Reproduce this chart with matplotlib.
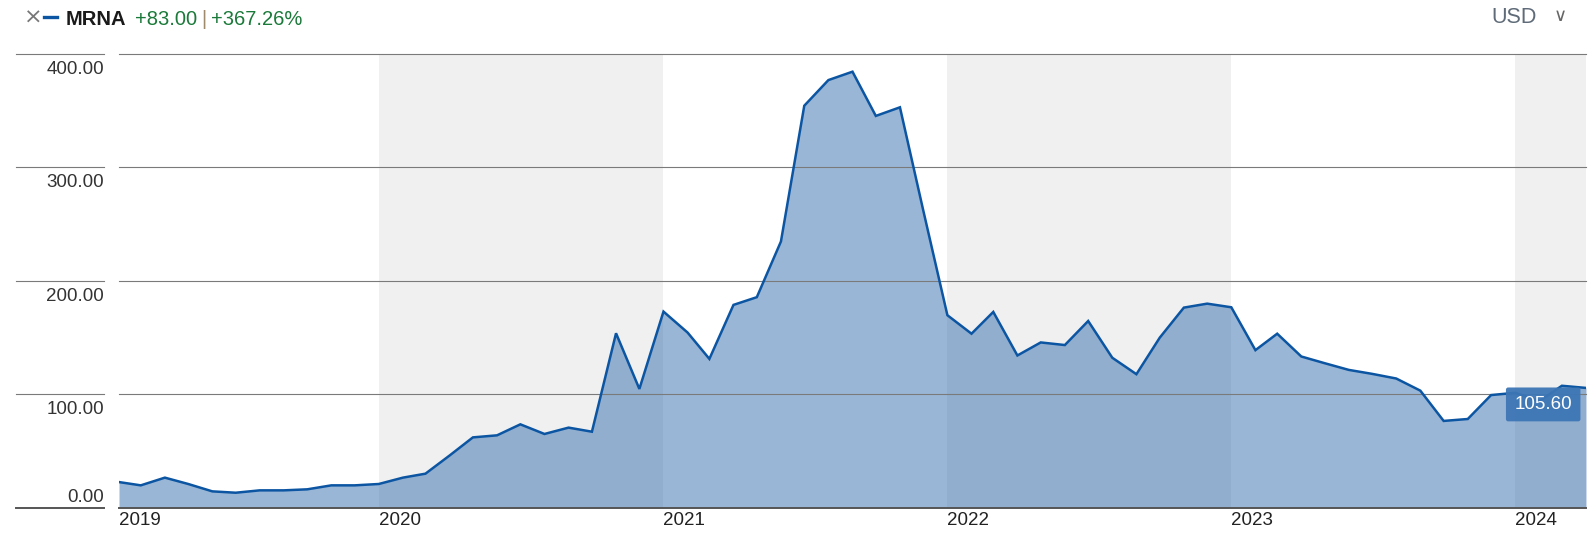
import pandas as pd
import matplotlib
matplotlib.use("Agg")
import matplotlib.pyplot as plt
from matplotlib.lines import Line2D

# monthly closes, MRNA
dates = pd.date_range("2019-02-01", periods=63, freq="MS")
prices = [22.6, 19.7, 26.5, 20.9, 14.4, 13.2, 15.3, 15.3, 16.2, 19.7,
          19.7, 20.9, 26.5, 30.0, 46.0, 62.0, 63.8, 73.5, 65.0, 70.6,
          67.0, 153.8, 104.7, 172.9, 154.4, 131.2, 178.8, 185.6, 234.7, 354.4,
          377.0, 384.4, 345.4, 353.0, 262.0, 169.7, 153.4, 172.6, 134.2, 145.7,
          143.4, 164.6, 132.2, 117.7, 149.9, 176.4, 179.9, 176.7, 138.9, 153.4,
          133.3, 127.4, 121.5, 118.0, 113.9, 103.2, 76.5, 78.2, 99.3, 101.3,
          94.0, 107.5, 105.6]
ticker = "MRNA"
change_abs = "+83.00"
change_pct = "+367.26%"
currency = "USD"
yticks = [0, 100, 200, 300, 400]
years = [2019, 2020, 2021, 2022, 2023, 2024]
shaded_years = [2020, 2022, 2024]

plt.rcParams["font.family"] = ["Liberation Sans", "DejaVu Sans"]

LINE = "#0b55a2"
FILL = "#1f5fa8"
GREEN = "#1b7a3a"
W, H = 1596, 537

fig = plt.figure(figsize=(W / 100, H / 100), dpi=100)
ax = fig.add_axes([119 / W, 1 - 507.7 / H, (1586 - 119) / W, (507.7 - 54) / H])

start, end = dates[0], dates[-1]
ax.set_xlim(start, end)
ax.set_ylim(0, 400)

# alternating year bands
for yr in shaded_years:
    a = max(pd.Timestamp(f"{yr}-01-01"), start)
    b = min(pd.Timestamp(f"{yr + 1}-01-01"), end)
    ax.axvspan(a, b, color="#f0f0f0", lw=0, zorder=0)

ax.fill_between(dates, prices, 0, color=FILL, alpha=0.45, lw=0, zorder=2)
ax.plot(dates, prices, color=LINE, lw=1.8, zorder=4, solid_joinstyle="miter")

# grid lines, also running into the label area on the left
tr = ax.get_yaxis_transform()
for v in yticks:
    lw, col = (1.4, "#555555") if v == 0 else (0.8, "#7a7a7a")
    ax.plot([0, 1], [v, v], transform=tr, color=col, lw=lw, zorder=3, clip_on=False)
    ax.plot([-0.0702, -0.0102], [v, v], transform=tr, color=col, lw=lw, clip_on=False)
    if v == 0:
        ax.text(-0.0102, v + 1.5, "0.00", transform=tr, ha="right", va="bottom",
                fontsize=13.5, color="#333333")
    else:
        ax.text(-0.0102, v - 6, f"{v:.2f}", transform=tr, ha="right", va="top",
                fontsize=13.5, color="#333333")

for s in ax.spines.values():
    s.set_visible(False)
ax.set_yticks([])

# year labels start at the year boundary
xt = [max(pd.Timestamp(f"{y}-01-01"), start) for y in years]
ax.set_xticks(xt)
ax.set_xticklabels([str(y) for y in years], ha="left", fontsize=13.5, color="#222222")
ax.tick_params(axis="x", length=0, pad=3)

# last value box
ax.annotate(f"{prices[-1]:.2f}", xy=(dates[-1], prices[-1]), xytext=(-14, -8),
            textcoords="offset pixels", ha="right", va="top", fontsize=13.5,
            color="white", zorder=6,
            bbox=dict(boxstyle="round,pad=0.45,rounding_size=0.12", fc="#3d76b5",
                      ec="none", alpha=0.95))

# header, pieces laid out one after another
fig.text(24 / W, 1 - 18 / H, "×", fontsize=16, color="#777777", va="center",
         family=["DejaVu Sans"])
fig.add_artist(Line2D([44 / W, 57 / W], [1 - 17 / H, 1 - 17 / H], color=LINE,
                      lw=2.4, transform=fig.transFigure))
renderer = fig.canvas.get_renderer()
x = 66
pieces = [(ticker, "#1a1a1a", "bold", 9), (change_abs, GREEN, "normal", 4),
          ("|", "#a08a6c", "normal", 4), (change_pct, GREEN, "normal", 0)]
for txt, col, wt, gap in pieces:
    t = fig.text(x / W, 1 - 25 / H, txt, fontsize=14.5, fontweight=wt, color=col,
                 va="baseline")
    x = t.get_window_extent(renderer).x1 + gap

fig.text(1537 / W, 1 - 23 / H, currency, fontsize=15.5, color="#5f6b78",
         ha="right", va="baseline")
fig.text(1554 / W, 1 - 16 / H, "∨", fontsize=13, color="#666666", va="center",
         family=["DejaVu Sans"])

fig.savefig("out.png", dpi=100)
